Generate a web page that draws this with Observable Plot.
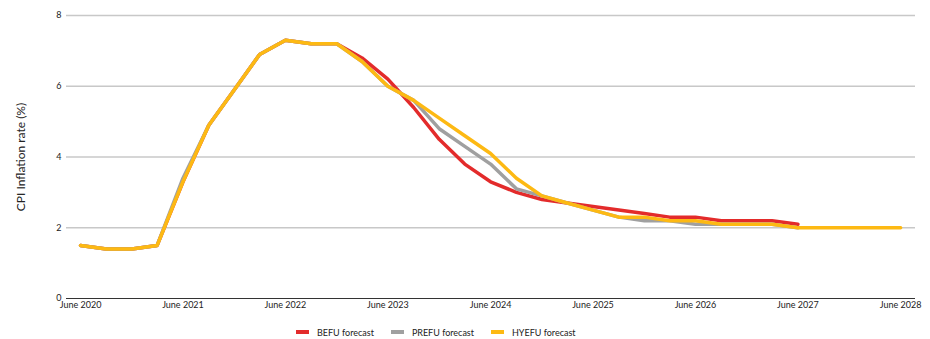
<!DOCTYPE html>
<html><head><meta charset="utf-8">
<script src="https://cdn.jsdelivr.net/npm/d3@7"></script>
<script src="https://cdn.jsdelivr.net/npm/@observablehq/plot@0.6"></script>
<style>
body{margin:0;background:#fff;font-family:Lato,"Open Sans",sans-serif;}
#legend{display:flex;align-items:center;padding-left:296px;height:14px;padding-top:9px;font-size:9px;color:#222;font-family:Lato,sans-serif}
.item{display:flex;align-items:center;margin-right:17px}
.sw{width:13px;height:4px;margin-right:8px}
</style></head><body>
<div id="chart"></div>
<div id="legend"></div>
<script>
const quarters = ["2020-06","2020-09","2020-12","2021-03","2021-06","2021-09","2021-12","2022-03","2022-06","2022-09","2022-12",
  "2023-03","2023-06","2023-09","2023-12","2024-03","2024-06","2024-09","2024-12","2025-03","2025-06","2025-09","2025-12",
  "2026-03","2026-06","2026-09","2026-12","2027-03","2027-06","2027-09","2027-12","2028-03","2028-06"];
const befu  = [1.5,1.4,1.4,1.5,3.3,4.9,5.9,6.9,7.3,7.2,7.2, 6.8,6.2,5.4,4.5,3.8,3.3,3.0,2.8,2.7,2.6,2.5,2.4,2.3,2.3,2.2,2.2,2.2,2.1];
const prefu = [1.5,1.4,1.4,1.5,3.4,4.9,5.9,6.9,7.3,7.2,7.2, 6.7,6.0,5.6,4.8,4.3,3.8,3.1,2.9,2.7,2.5,2.3,2.2,2.2,2.1,2.1,2.1,2.1,2.0];
const hyefu = [1.5,1.4,1.4,1.5,3.3,4.9,5.9,6.9,7.3,7.2,7.2, 6.7,6.0,5.6,5.1,4.6,4.1,3.4,2.9,2.7,2.5,2.3,2.3,2.2,2.2,2.1,2.1,2.1,2.0,2.0,2.0,2.0,2.0];
const seriesNames = ["BEFU forecast","PREFU forecast","HYEFU forecast"];
const seriesColors = ["#e32b2b","#a0a0a0","#fdb913"];
const tickLabels = ["June 2020","June 2021","June 2022","June 2023","June 2024","June 2025","June 2026","June 2027","June 2028"];
const yTicks = [0,2,4,6,8];
const yLabel = "CPI Inflation rate (%)";

const parse = d3.utcParse("%Y-%m");
const seriesValues = [befu, prefu, hyefu];
const data = [];
seriesValues.forEach((vals, s) => vals.forEach((v, i) => data.push({date: parse(quarters[i]), value: v, series: seriesNames[s]})));
const tickDates = tickLabels.map(t => parse(t.slice(5) + "-06"));

const chart = Plot.plot({
  width: 930, height: 316,
  marginLeft: 66, marginRight: 15, marginTop: 15, marginBottom: 18,
  style: {fontFamily: "Lato, sans-serif", fontSize: "9px", color: "#222", background: "#fff"},
  x: {type: "utc", domain: [new Date(Date.UTC(2020,3,12)), new Date(Date.UTC(2028,6,24))]},
  y: {domain: [0, 8]},
  marks: [
    Plot.ruleY(yTicks.filter(d => d > 0), {stroke: "#c8c8c8", strokeWidth: 1.6}),
    Plot.ruleY([0], {stroke: "#333", strokeWidth: 1.2}),
    ...seriesNames.map((name, s) => Plot.line(data.filter(d => d.series === name), {x: "date", y: "value", stroke: seriesColors[s], strokeWidth: 3.5})),
    Plot.axisY({ticks: yTicks, tickSize: 0, tickPadding: 5, label: null}),
    Plot.axisX({ticks: tickDates, tickFormat: (d, i) => tickLabels[i], tickSize: 0, tickPadding: 3, label: null}),
    Plot.text([yLabel], {frameAnchor: "left", rotate: -90, dx: -45, fontSize: 12, textAnchor: "middle", fill: "#222"})
  ]
});
document.getElementById("chart").appendChild(chart);

const legend = document.getElementById("legend");
seriesNames.forEach((n, i) => {
  const it = document.createElement("div"); it.className = "item";
  const sw = document.createElement("span"); sw.className = "sw"; sw.style.background = seriesColors[i];
  const tx = document.createElement("span"); tx.textContent = n;
  it.appendChild(sw); it.appendChild(tx); legend.appendChild(it);
});
</script>
</body></html>
